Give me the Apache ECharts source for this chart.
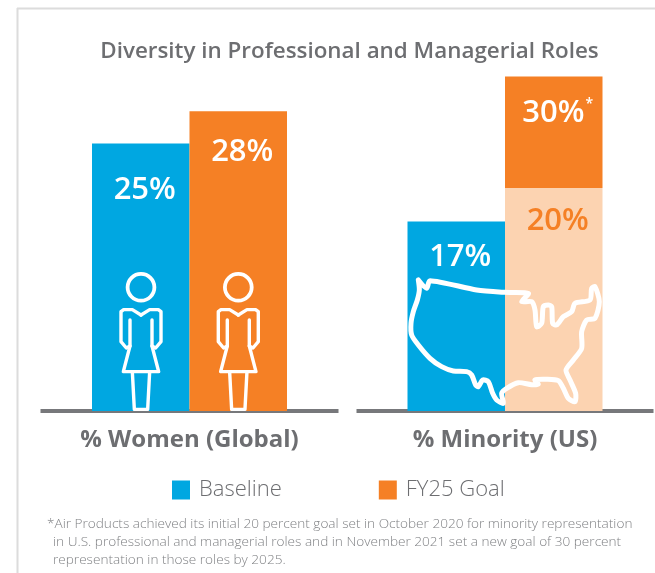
<!DOCTYPE html>
<html><head><meta charset="utf-8">
<style>html,body{margin:0;padding:0;background:#fff}#c{width:655px;height:573px}</style>
<script src="https://cdn.jsdelivr.net/npm/echarts@6/dist/echarts.min.js"></script>
</head><body><div id="c"></div>
<script>
const categories = ['% Women (Global)', '% Minority (US)'];
const baselineValues = [25, 17];
const goalValues = [28, 30];
const initialMinorityGoal = 20;
const titleText = 'Diversity in Professional and Managerial Roles';
const footnoteLines = [
  '*Air Products achieved its initial 20 percent goal set in October 2020 for minority representation',
  'in U.S. professional and managerial roles and in November 2021 set a new goal of 30 percent',
  'representation in those roles by 2025.'
];
const BLUE = '#00a7e1', ORANGE = '#f58025', PEACH = '#fcd3b1', GREY = '#6d6e71', FONT = '"Open Sans","Noto Sans",sans-serif';

function lab(text, distance, color, dx) {
  return { show: true, position: 'insideTop', distance, offset: [dx || 4, 0], formatter: text,
    color: color || '#fff', fontFamily: FONT, fontSize: 31, fontWeight: 600,
    rich: { a: { fontSize: 31, color: '#fff', fontFamily: FONT, fontWeight: 600 }, s: { fontSize: 14, color: '#fff', fontFamily: FONT, verticalAlign: 'top', padding: [0, 0, 14, 1] } } };
}
function xA(i) {
  return { gridIndex: i, type: 'category', data: [categories[i]], offset: 2,
    axisLine: { lineStyle: { color: '#77787b', width: 4, cap: 'butt' } }, axisTick: { show: false },
    axisLabel: { color: GREY, fontFamily: FONT, fontSize: 24, fontWeight: 700, margin: 15 } };
}
const barW = 97.5;

// decorative icons
const mapPts = [[265,60],[268,90],[262,120],[250,155],[243,190],[245,225],[265,255],[300,295],[335,320],[370,333],[410,335],[425,345],[437,375],[445,380],[458,360],[475,365],[488,400],[500,420],[520,430],[515,400],[530,385],[565,368],[605,374],[625,372],[615,360],[650,358],[685,362],[700,385],[715,415],[735,425],[737,400],[720,360],[708,330],[730,300],[755,265],[755,215],[770,180],[795,175],[808,125],[795,80],[785,85],[780,120],[735,130],[725,155],[700,170],[680,195],[668,190],[665,140],[655,135],[640,140],[635,190],[620,200],[615,150],[605,125],[575,125],[595,100],[525,97],[440,90],[300,62],[290,85],[265,60]]
  .map(p => [330 + p[0] / 3, 260 + p[1] / 3]);
function woman(cx) {
  const P = (dx, zy) => [cx + dx / 3, 260 + zy / 3];
  const st = { fill: 'none', stroke: '#fff', lineWidth: 3.4, lineJoin: 'round', lineCap: 'round' };
  const strokes = [
    [[0,165],[-26,149],[-52,149],[-60,155],[-60,245],[-44,264],[-33,258],[-33,180]],
    [[0,165],[26,149],[52,149],[60,155],[60,245],[44,264],[33,258],[33,180]],
    [[-33,258],[-53,335],[53,335],[33,258]],
    [[-26,335],[-20,448],[20,448],[26,335]]
  ];
  return [
    { type: 'circle', z: 10, shape: { cx, cy: 287.3, r: 13.4 }, style: { fill: 'none', stroke: '#fff', lineWidth: 3.8 } },
    ...strokes.map(s => ({ type: 'polyline', z: 10, shape: { points: s.map(p => P(p[0], p[1])) }, style: st }))
  ];
}

const option = {
  animation: false,
  backgroundColor: '#fff',
  title: { text: titleText, left: 349.5, top: 41, padding: 0, textAlign: 'center',
    textStyle: { color: GREY, fontFamily: FONT, fontSize: 22.4, fontWeight: 600 } },
  legend: { left: 167, top: 474, itemWidth: 18, itemHeight: 19, itemGap: 97, icon: 'rect', selectedMode: false,
    data: ['Baseline', 'FY25 Goal'],
    textStyle: { color: GREY, fontFamily: FONT, fontSize: 22, fontWeight: 300, padding: [0, 0, 0, 4] } },
  grid: [{ left: 40.5, width: 298, top: 40, height: 371 }, { left: 356.5, width: 297, top: 40, height: 371 }],
  xAxis: [xA(0), xA(1)],
  yAxis: [
    { gridIndex: 0, type: 'value', min: 0, max: 34.67, show: false },
    { gridIndex: 1, type: 'value', min: 0, max: 33.27, show: false }
  ],
  series: [
    { name: 'Baseline', type: 'bar', xAxisIndex: 0, yAxisIndex: 0, barWidth: barW, barGap: 0, itemStyle: { color: BLUE },
      data: [baselineValues[0]], label: lab(baselineValues[0] + '%', 31) },
    { name: 'FY25 Goal', type: 'bar', xAxisIndex: 0, yAxisIndex: 0, barWidth: barW, barGap: 0, itemStyle: { color: ORANGE },
      data: [goalValues[0]], label: lab(goalValues[0] + '%', 25) },
    { name: 'Baseline', type: 'bar', xAxisIndex: 1, yAxisIndex: 1, barWidth: barW, barGap: 0, itemStyle: { color: BLUE },
      data: [baselineValues[1]], label: lab(baselineValues[1] + '%', 20) },
    { name: 'Initial goal', type: 'bar', stack: 'goal', xAxisIndex: 1, yAxisIndex: 1, barWidth: barW, barGap: 0, itemStyle: { color: PEACH },
      data: [initialMinorityGoal], label: lab(initialMinorityGoal + '%', 18, ORANGE) },
    { name: 'FY25 Goal', type: 'bar', stack: 'goal', xAxisIndex: 1, yAxisIndex: 1, barWidth: barW, barGap: 0, itemStyle: { color: ORANGE },
      data: [goalValues[1] - initialMinorityGoal], label: lab('{a|' + goalValues[1] + '%}{s|*}', 21) }
  ],
  graphic: [
    { type: 'line', shape: { x1: 17.5, y1: 8, x2: 17.5, y2: 573 }, style: { stroke: '#dcdcdc', lineWidth: 2 } },
    { type: 'line', shape: { x1: 17, y1: 8.5, x2: 655, y2: 8.5 }, style: { stroke: '#dcdcdc', lineWidth: 2 } },
    ...woman(141), ...woman(238.3),
    { type: 'polyline', z: 10, shape: { points: mapPts, smooth: 0.25 }, style: { fill: 'none', stroke: '#fff', lineWidth: 5, lineJoin: 'round', lineCap: 'round' } },
    { type: 'text', left: 47, top: 517, style: { text: footnoteLines[0], fill: '#808285', font: '300 13.6px ' + FONT } },
    { type: 'text', left: 53, top: 535, style: { text: footnoteLines[1], fill: '#808285', font: '300 13.6px ' + FONT } },
    { type: 'text', left: 53, top: 553, style: { text: footnoteLines[2], fill: '#808285', font: '300 13.6px ' + FONT } }
  ]
};
const chart = echarts.init(document.getElementById('c'), null, { renderer: 'canvas' });
chart.setOption(option);
</script></body></html>
